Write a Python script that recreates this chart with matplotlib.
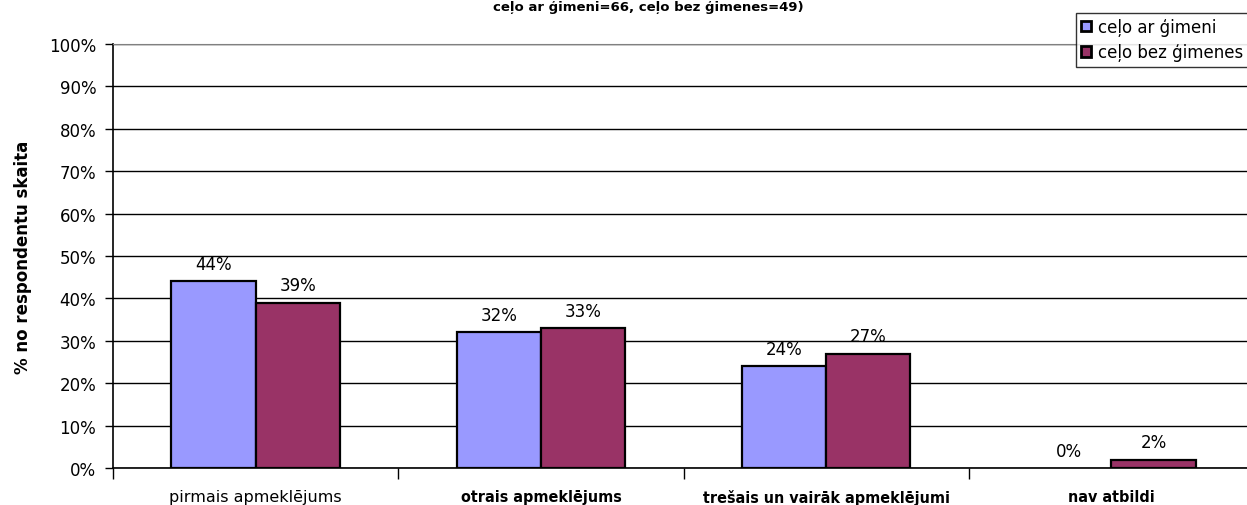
import matplotlib.pyplot as plt
import numpy as np

categories = ["pirmais apmeklējums", "otrais apmeklējums",
              "trešais un vairāk apmeklējumi", "nav atbildi"]
with_family = [44, 32, 24, 0]
without_family = [39, 33, 27, 2]
series_names = ["ceļo ar ģimeni", "ceļo bez ģimenes"]
yticks = list(range(0, 101, 10))

plt.rcParams['font.family'] = ['DejaVu Sans']

fig = plt.figure(figsize=(12.47, 5.06), dpi=100)
ax = fig.add_axes([113 / 1247, 37 / 506, 1141 / 1247, 424 / 506])

x = np.arange(len(categories))
w = 0.295
colors = ['#9999FF', '#993366']
all_bars = []
for k, (vals, off) in enumerate(((with_family, -w / 2), (without_family, w / 2))):
    lw = [1.6 if v > 0 else 0 for v in vals]
    bars = ax.bar(x + off, vals, w, color=colors[k], edgecolor='black', linewidth=lw,
                  label=series_names[k], zorder=3)
    all_bars.append((bars, vals))

for bars, vals in all_bars:
    for rect, v in zip(bars, vals):
        ax.text(rect.get_x() + rect.get_width() / 2, v + 2.0, f"{v}%",
                ha='center', va='bottom', fontsize=12, zorder=4)

ax.set_xlim(-0.5, len(categories) - 0.5)
ax.set_ylim(0, 100)
ax.set_yticks(yticks)
ax.set_yticklabels([f"{t}%" for t in yticks], fontsize=12)
ax.yaxis.grid(True, color='black', linewidth=1.0, zorder=0)
ax.set_axisbelow(True)

ax.set_xticks(np.arange(len(categories) + 1) - 0.5)
ax.set_xticklabels([])
ax.tick_params(axis='x', length=8, width=1, color='black')
ax.tick_params(axis='y', length=6, width=1, color='black', pad=6)

for i, lab in enumerate(categories):
    weight = 'normal' if i == 0 else 'bold'
    stretch = 'normal' if i == 0 else 'condensed'
    ax.text(i, -0.068, lab, transform=ax.get_xaxis_transform(), ha='center', va='center',
            fontsize=11.5, fontweight=weight, fontstretch=stretch)

ax.spines['right'].set_visible(False)
ax.spines['top'].set_color('#808080')
ax.spines['left'].set_linewidth(1.2)
ax.spines['bottom'].set_linewidth(1.2)

ax.set_ylabel("% no respondentu skaita", fontsize=12, fontweight='bold', labelpad=12)

fig.text(648 / 1247, 1 - 1 / 506, "ceļo ar ģimeni=66, ceļo bez ģimenes=49)",
         ha='center', va='top', fontsize=9.5, fontweight='bold')

leg = fig.legend(loc='upper left', bbox_to_anchor=(1076 / 1247, 1 - 14 / 506),
                 frameon=True, fancybox=False, fontsize=12, handlelength=0.6,
                 handleheight=0.6, handletextpad=0.4, borderpad=0.3, labelspacing=0.45,
                 borderaxespad=0)
leg.get_frame().set_edgecolor('black')
leg.get_frame().set_linewidth(1.0)
for h in leg.legend_handles:
    h.set_linewidth(2.0)

fig.savefig("out.png", dpi=100)
